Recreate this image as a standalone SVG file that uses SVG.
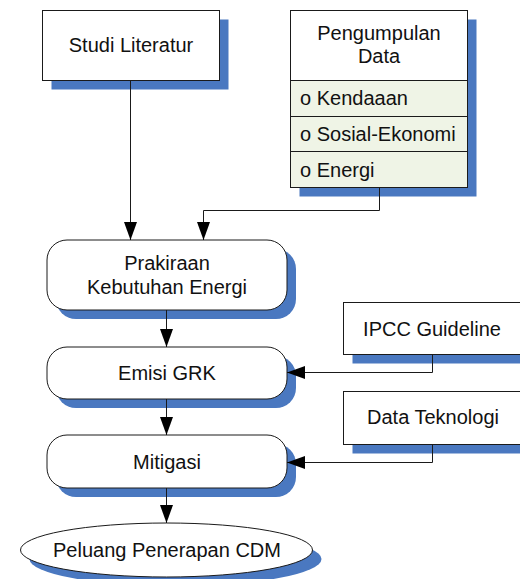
<svg xmlns="http://www.w3.org/2000/svg" width="520" height="579" viewBox="0 0 520 579">
  <style>
    .box { fill: #ffffff; stroke: #1a1a1a; stroke-width: 1; }
    .row { fill: #eff4e6; stroke: #1a1a1a; stroke-width: 1; }
    .shadow { fill: #4a78c0; stroke: none; }
    .lbl { font-family: "Liberation Sans", Arial, sans-serif; font-size: 20px; fill: #111; text-anchor: middle; }
    .item { font-family: "Liberation Sans", Arial, sans-serif; font-size: 20px; fill: #111; }
    .conn { fill: none; stroke: #1a1a1a; stroke-width: 1; }
  </style>
  <defs>
    <marker id="arrow" markerUnits="userSpaceOnUse" markerWidth="18" markerHeight="14" refX="18" refY="7" orient="auto">
      <path d="M0,0.5 L18,7 L0,13.5 Z" fill="#000"/>
    </marker>
  </defs>
  <rect width="520" height="579" fill="#ffffff"/>

  <g id="studi-literatur">
    <rect class="shadow" x="51.5" y="19.5" width="177" height="70"/>
    <rect class="box" x="42.5" y="10.5" width="177" height="70"/>
    <text class="lbl" x="131" y="52">Studi Literatur</text>
  </g>

  <g id="pengumpulan-data">
    <rect class="shadow" x="299.5" y="19.5" width="177" height="177"/>
    <rect class="box" x="290.5" y="10.5" width="177" height="70"/>
    <text class="lbl" x="379" y="40">Pengumpulan</text>
    <text class="lbl" x="379" y="63">Data</text>
    <rect class="row" x="290.5" y="80.5" width="177" height="36"/>
    <text class="item" x="300" y="105">o Kendaaan</text>
    <rect class="row" x="290.5" y="116.5" width="177" height="35"/>
    <text class="item" x="300" y="141">o Sosial-Ekonomi</text>
    <rect class="row" x="290.5" y="151.5" width="177" height="36"/>
    <text class="item" x="300" y="177">o Energi</text>
  </g>

  <g id="prakiraan">
    <rect class="shadow" x="56" y="249" width="240" height="70" rx="20" ry="20"/>
    <rect class="box" x="47" y="240" width="240" height="70" rx="20" ry="20"/>
    <text class="lbl" x="167" y="269.5">Prakiraan</text>
    <text class="lbl" x="167" y="293.5">Kebutuhan Energi</text>
  </g>

  <g id="emisi-grk">
    <rect class="shadow" x="56" y="356" width="240" height="52" rx="20" ry="20"/>
    <rect class="box" x="47" y="347" width="240" height="52" rx="20" ry="20"/>
    <text class="lbl" x="167" y="380">Emisi GRK</text>
  </g>

  <g id="mitigasi">
    <rect class="shadow" x="56" y="444" width="240" height="53" rx="20" ry="20"/>
    <rect class="box" x="47" y="435" width="240" height="53" rx="20" ry="20"/>
    <text class="lbl" x="167" y="469">Mitigasi</text>
  </g>

  <g id="ipcc-guideline">
    <rect class="shadow" x="352.5" y="311.5" width="180" height="52"/>
    <rect class="box" x="343.5" y="302.5" width="180" height="52"/>
    <text class="lbl" x="432" y="336">IPCC Guideline</text>
  </g>

  <g id="data-teknologi">
    <rect class="shadow" x="352.5" y="400.5" width="180" height="53"/>
    <rect class="box" x="343.5" y="391.5" width="180" height="53"/>
    <text class="lbl" x="433" y="423.5">Data Teknologi</text>
  </g>

  <g id="peluang-cdm">
    <ellipse class="shadow" cx="175.5" cy="559" rx="146" ry="27"/>
    <ellipse class="box" cx="166.5" cy="550" rx="146" ry="27"/>
    <text class="lbl" x="167" y="557">Peluang Penerapan CDM</text>
  </g>

  <g id="connectors">
    <path class="conn" d="M130.5,80.5 V240" marker-end="url(#arrow)"/>
    <path class="conn" d="M379.5,187.5 V210.5 H203.5 V240" marker-end="url(#arrow)"/>
    <path class="conn" d="M166.5,310 V347" marker-end="url(#arrow)"/>
    <path class="conn" d="M166.5,399 V435" marker-end="url(#arrow)"/>
    <path class="conn" d="M166.5,488 V523" marker-end="url(#arrow)"/>
    <path class="conn" d="M432.5,354.5 V372.5 H287" marker-end="url(#arrow)"/>
    <path class="conn" d="M432.5,444.5 V462.5 H287" marker-end="url(#arrow)"/>
  </g>
</svg>
